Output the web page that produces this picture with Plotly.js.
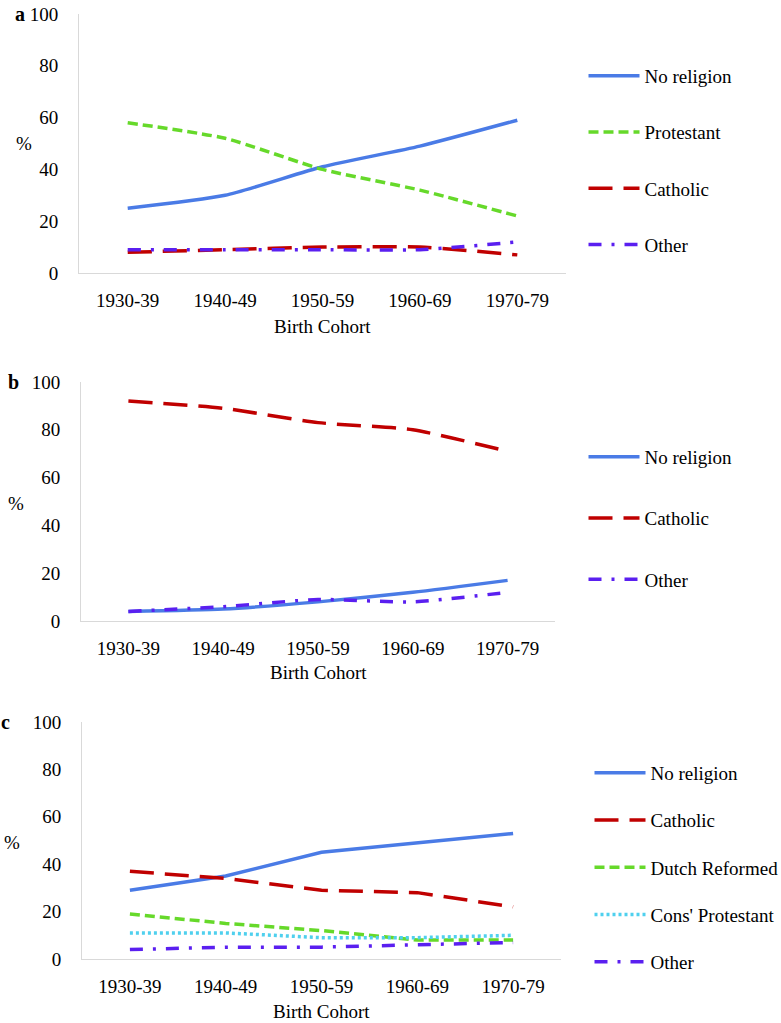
<!DOCTYPE html>
<html><head><meta charset="utf-8">
<script src="https://cdn.plot.ly/plotly-3.0.1.min.js"></script>
<style>html,body{margin:0;padding:0;background:#fff;overflow:hidden}</style>
</head><body><div id="chart" style="width:781px;height:1023px"></div>
<script>
const cohorts = ['1930-39','1940-49','1950-59','1960-69','1970-79'];
// Panel a
const aNoReligion = [25,30,41,49,59];
const aProtestant = [58,52,40,32,22];
const aCatholic   = [8,9,10,10,7];
const aOther      = [9,9,9,9,12];
// Panel b
const bNoReligion = [4,5,8,12,17];
const bCatholic   = [92,89,83,80,71];
const bOther      = [4,6,9,8,12];
// Panel c
const cNoReligion     = [29,35,45,49,53];
const cCatholic       = [37,34,29,28,22];
const cDutchReformed  = [19,15,12,8,8];
const cConsProtestant = [11,11,9,9,10];
const cOther          = [4,5,5,6,7];
const yTickVals = [0,20,40,60,80,100];
const panelLetters = ['a','b','c'];
const xTitle = 'Birth Cohort';
const yTitle = '%';

const FONT = '"Liberation Serif", "Times New Roman", serif';
const W = 3.5;
const st = {
  none:  {color:'#4a7be6', dash:'solid'},
  prot:  {color:'#66d92a', dash:'10px,5px'},
  cath:  {color:'#c00000', dash:'24px,11px'},
  other: {color:'#5a1ff0', dash:'13px,10px,3px,10px'},
  cons:  {color:'#4fd0ee', dash:'3px,3px'}
};
function tr(name, y, s, xa, ya, leg, shape){
  return {x:cohorts, y:y, name:name, type:'scatter', mode:'lines',
    xaxis:xa, yaxis:ya, legend:leg, legendgroup:leg+name,
    line:{color:s.color, dash:s.dash, width:W, shape:shape, smoothing:0.6},
    hoverinfo:'skip'};
}
const data = [
  tr('No religion', aNoReligion, st.none, 'x','y','legend','spline'),
  tr('Protestant', aProtestant, st.prot, 'x','y','legend','spline'),
  tr('Catholic', aCatholic, st.cath, 'x','y','legend','spline'),
  tr('Other', aOther, st.other, 'x','y','legend','spline'),
  tr('No religion', bNoReligion, st.none, 'x2','y2','legend2','spline'),
  tr('Catholic', bCatholic, st.cath, 'x2','y2','legend2','spline'),
  tr('Other', bOther, st.other, 'x2','y2','legend2','spline'),
  tr('No religion', cNoReligion, st.none, 'x3','y3','legend3','linear'),
  tr('Catholic', cCatholic, st.cath, 'x3','y3','legend3','linear'),
  tr('Dutch Reformed', cDutchReformed, st.prot, 'x3','y3','legend3','linear'),
  tr("Cons' Protestant", cConsProtestant, st.cons, 'x3','y3','legend3','linear'),
  tr('Other', cOther, st.other, 'x3','y3','legend3','linear')
];
const H = 1023, Wd = 781;
function px(x){return x/Wd;}
function py(y){return (H-y)/H;}
const tickFont = {family:FONT, size:19, color:'#000'};
function xax(l,r,anchor){
  return {domain:[px(l),px(r)], anchor:anchor, range:[-0.5,4.5], type:'category',
    showline:true, linecolor:'#d9d9d9', linewidth:1, showgrid:false, zeroline:false,
    ticks:'', ticklabelstandoff:10, tickfont:tickFont, fixedrange:true, automargin:false};
}
function yax(t,b,anchor){
  return {domain:[py(b),py(t)], anchor:anchor, range:[0,100], tickvals:yTickVals,
    showline:true, linecolor:'#d9d9d9', linewidth:1, showgrid:false, zeroline:false,
    ticks:'', ticklabelstandoff:16, tickfont:tickFont, fixedrange:true, automargin:false};
}
function leg(left, top, gap){
  return {x:px(left), y:py(top), xanchor:'left', yanchor:'top', traceorder:'grouped',
    itemwidth:51,
    tracegroupgap:gap, font:{family:FONT,size:19,color:'#000'}, bgcolor:'rgba(0,0,0,0)'};
}
function ann(text, x, y, size, bold){
  return {text: bold?('<b>'+text+'</b>'):text, x:px(x), y:py(y), xref:'paper', yref:'paper',
    xanchor:'center', yanchor:'middle', showarrow:false,
    font:{family:FONT, size:size, color:'#000'}};
}
const layout = {
  width:Wd, height:H, margin:{l:0,r:0,t:0,b:0,autoexpand:false},
  paper_bgcolor:'#fff', plot_bgcolor:'#fff', showlegend:true,
  font:{family:FONT, color:'#000'},
  xaxis: xax(79,566,'y'),   yaxis: yax(14,273,'x'),
  xaxis2:xax(81,555,'y2'),  yaxis2:yax(382,621,'x2'),
  xaxis3:xax(82,561,'y3'),  yaxis3:yax(722,959,'x3'),
  legend: leg(583.5,57,28.5), legend2: leg(583.5,438,33.5), legend3: leg(589.5,754,19.5),
  annotations:[
    ann(panelLetters[0],20,14,20,true), ann(panelLetters[1],13,382,20,true), ann(panelLetters[2],5,722,20,true),
    ann(yTitle,24,143,19,false), ann(yTitle,16,503,19,false), ann(yTitle,12,843,19,false),
    ann(xTitle,322,326,19,false), ann(xTitle,318,672,19,false), ann(xTitle,321,1011,19,false)
  ]
};
Plotly.newPlot('chart', data, layout, {displayModeBar:false, staticPlot:true});
</script></body></html>
